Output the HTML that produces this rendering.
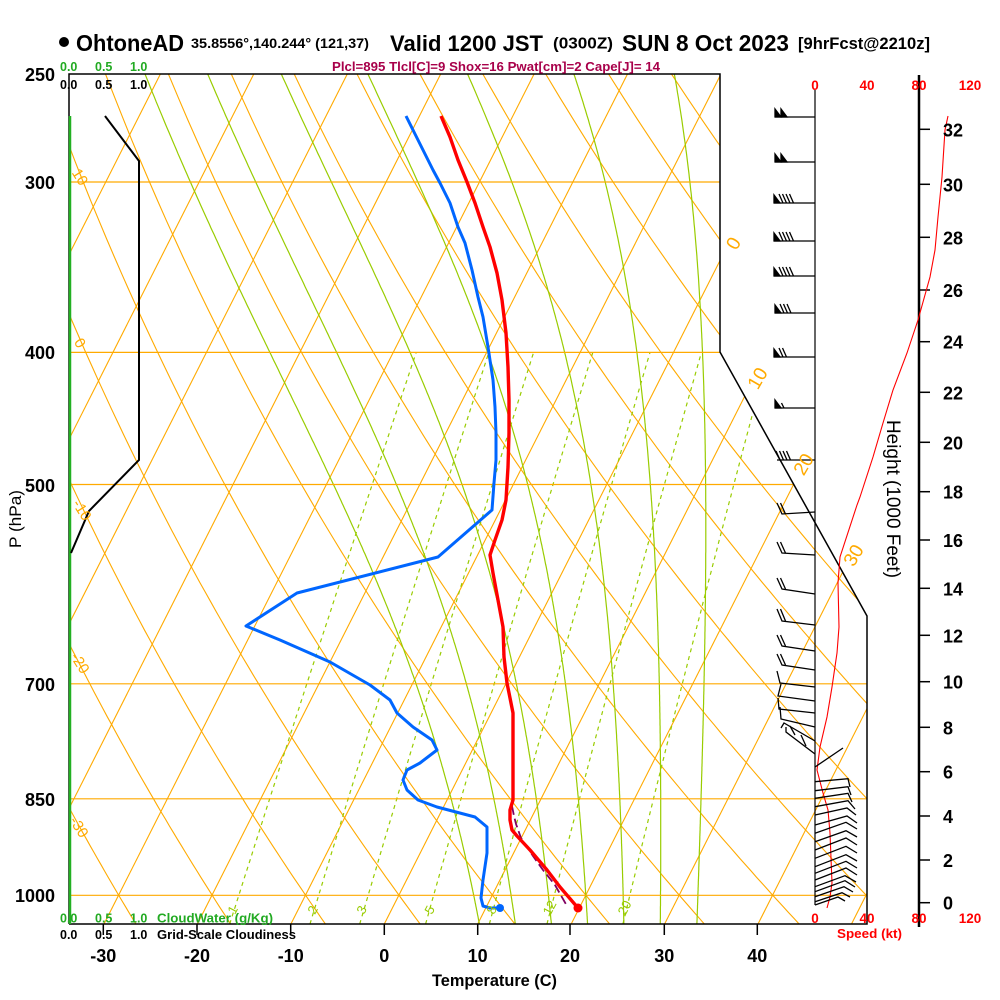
<!DOCTYPE html>
<html><head><meta charset="utf-8"><style>
html,body{margin:0;padding:0;background:#fff;}
svg{display:block;font-family:"Liberation Sans",Arial,sans-serif;}
</style></head><body>
<svg id="s" width="1000" height="1000" viewBox="0 0 1000 1000" xmlns="http://www.w3.org/2000/svg">
<defs><clipPath id="c"><polygon points="69,74 720,74 720,352 867,616 867,924 69,924"/></clipPath></defs>
<rect width="1000" height="1000" fill="#fff"/>
<g id="bg" clip-path="url(#c)"></g>
<g clip-path="url(#c)" stroke="#FFAA00" stroke-width="1.2">
<line x1="69" y1="182" x2="867" y2="182"/><line x1="69" y1="352.4" x2="867" y2="352.4"/><line x1="69" y1="484.5" x2="867" y2="484.5"/><line x1="69" y1="683.8" x2="867" y2="683.8"/><line x1="69" y1="798.8" x2="867" y2="798.8"/><line x1="69" y1="895.3" x2="867" y2="895.3"/>
</g>
<!-- box -->
<g fill="none" stroke="#000" stroke-width="1.5">
<polyline points="69,924 69,74 720,74 720,352 867,616 867,924 69,924"/>
<line x1="815" y1="90" x2="815" y2="905" stroke-width="1.2"/>
<line x1="919" y1="75" x2="919" y2="927" stroke-width="2.5"/>
</g>
<line x1="70" y1="116" x2="70" y2="924" stroke="#22B022" stroke-width="2.5"/>
<!-- bottom ticks -->
<g stroke="#000" stroke-width="1.5">
<line x1="103.3" y1="924" x2="103.3" y2="935"/><line x1="197" y1="924" x2="197" y2="935"/><line x1="290.7" y1="924" x2="290.7" y2="935"/><line x1="384.3" y1="924" x2="384.3" y2="935"/><line x1="477.7" y1="924" x2="477.7" y2="935"/><line x1="570" y1="924" x2="570" y2="935"/><line x1="664.3" y1="924" x2="664.3" y2="935"/><line x1="757.3" y1="924" x2="757.3" y2="935"/>
</g>
<!-- height ticks -->
<g stroke="#000" stroke-width="1.5">
<line x1="919" y1="902.7" x2="930" y2="902.7"/><line x1="919" y1="860" x2="930" y2="860"/><line x1="919" y1="816" x2="930" y2="816"/><line x1="919" y1="771.7" x2="930" y2="771.7"/><line x1="919" y1="727.3" x2="930" y2="727.3"/><line x1="919" y1="681.7" x2="930" y2="681.7"/><line x1="919" y1="635.3" x2="930" y2="635.3"/><line x1="919" y1="588.3" x2="930" y2="588.3"/><line x1="919" y1="540" x2="930" y2="540"/><line x1="919" y1="491.7" x2="930" y2="491.7"/><line x1="919" y1="442.3" x2="930" y2="442.3"/><line x1="919" y1="392.3" x2="930" y2="392.3"/><line x1="919" y1="341.7" x2="930" y2="341.7"/><line x1="919" y1="290" x2="930" y2="290"/><line x1="919" y1="237.3" x2="930" y2="237.3"/><line x1="919" y1="184.3" x2="930" y2="184.3"/><line x1="919" y1="129.3" x2="930" y2="129.3"/>
</g>
<!-- cloudiness line -->
<polyline points="105,116 139,161 139,460 89,511 71,553" fill="none" stroke="#000" stroke-width="2"/>
<!-- speed profile -->
<polyline points="948,116 945,130 942,177 938,217 935,250 930,277 918,320 907,353 893,390 883,423 873,457 860,497 857,505 840,557 838,583 839,627 837,653 832,687 827,717 820,747 817,770 823,793 828,810 830,833 832,883 830,897 827,908" fill="none" stroke="#FF0000" stroke-width="1.1"/>
<!-- wind barbs -->
<g stroke="#000" stroke-width="1.3" fill="#000">
<line x1="815" y1="117" x2="775" y2="117"/><polygon points="775,117 775,109 781,117"/><polygon points="781,117 781,109 787,117"/>
<line x1="815" y1="162" x2="775" y2="162"/><polygon points="775,162 775,154 781,162"/><polygon points="781,162 781,154 787,162"/>
<line x1="815" y1="203" x2="774" y2="203"/><polygon points="774,203 774,195 780,203"/><line x1="783" y1="203" x2="779" y2="194"/><line x1="786.5" y1="203" x2="782.5" y2="194"/><line x1="790" y1="203" x2="786" y2="194"/><line x1="793.5" y1="203" x2="789.5" y2="194"/>
<line x1="815" y1="241" x2="774" y2="241"/><polygon points="774,241 774,233 780,241"/><line x1="783" y1="241" x2="779" y2="232"/><line x1="786.5" y1="241" x2="782.5" y2="232"/><line x1="790" y1="241" x2="786" y2="232"/><line x1="793.5" y1="241" x2="789.5" y2="232"/>
<line x1="815" y1="276" x2="774" y2="276"/><polygon points="774,276 774,268 780,276"/><line x1="783" y1="276" x2="779" y2="267"/><line x1="786.5" y1="276" x2="782.5" y2="267"/><line x1="790" y1="276" x2="786" y2="267"/><line x1="793.5" y1="276" x2="789.5" y2="267"/>
<line x1="815" y1="313" x2="775" y2="313"/><polygon points="775,313 775,305 781,313"/><line x1="784" y1="313" x2="780" y2="304"/><line x1="787.5" y1="313" x2="783.5" y2="304"/><line x1="791" y1="313" x2="787" y2="304"/>
<line x1="815" y1="357" x2="774" y2="357"/><polygon points="774,357 774,349 780,357"/><line x1="783" y1="357" x2="779" y2="348"/><line x1="786.5" y1="357" x2="782.5" y2="348"/>
<line x1="815" y1="408" x2="775" y2="408"/><polygon points="775,408 775,400 781,408"/><line x1="784" y1="408" x2="781.5" y2="403"/>
<line x1="815" y1="460" x2="777" y2="460"/><line x1="780" y1="460" x2="776" y2="451"/><line x1="783.5" y1="460" x2="779.5" y2="451"/><line x1="787" y1="460" x2="783" y2="451"/><line x1="790.5" y1="460" x2="786.5" y2="451"/>
<g fill="none">
<polyline points="815,512 782,514 777,503"/><line x1="785.5" y1="514" x2="780.5" y2="503"/>
<polyline points="815,555 782,553 777,542"/><line x1="785.5" y1="553" x2="780.5" y2="542"/>
<polyline points="815,594 782,589 777,578"/><line x1="785.5" y1="589" x2="780.5" y2="578"/>
<polyline points="815,625 782,621 777,609"/><line x1="785.5" y1="621" x2="780.5" y2="609"/>
<polyline points="815,651 782,646 777,635"/><line x1="785.5" y1="646" x2="780.5" y2="635"/>
<polyline points="815,670 782,665 777,654"/><line x1="785.5" y1="665" x2="780.5" y2="654"/>
<polyline points="815,687 780,683 777,671"/>
<polyline points="815,701 778,696 781,684"/>
<polyline points="815,713 779,709 778,698"/>
<polyline points="815,727 781,719 780,707"/>
<polyline points="815,741 784,723 781,728"/><line x1="790" y1="726" x2="795" y2="735"/>
<polyline points="815,754 786,732 786,727"/><line x1="801" y1="735" x2="806" y2="746"/>
<line x1="815" y1="767" x2="843" y2="748"/>
<polyline points="815,781.7 848,778.7 850,787"/>
<polyline points="815,790.7 848,786.7 851,795"/>
<polyline points="815,798.3 848,793.3 852,802"/>
<polyline points="815,806.7 848,800.7 855,809"/>
<polyline points="815,815 847,808 856,815"/>
<polyline points="815,825 847,816 857,823"/>
<polyline points="815,833.3 846,822.3 857,829"/>
<polyline points="815,841.7 846,830.7 857,837"/>
<polyline points="815,850 846,838 857,845"/>
<polyline points="815,858.3 846,846.3 857,853"/>
<polyline points="815,866.7 846,854.7 857,861"/>
<polyline points="815,873.3 846,861.3 857,868"/>
<polyline points="815,880 846,868 857,875"/>
<polyline points="815,886.7 845,875.7 856,882"/>
<polyline points="815,891.7 845,880.7 855,887"/>
<polyline points="815,896.7 844,886.7 853,892"/>
<polyline points="815,901.7 842,892.7 850,897"/>
<polyline points="815,905 838,897 845,901"/>
</g>
</g>
<!-- purple parcel -->
<polyline points="512,806 514,816 516,824 521,838 533,856 543,870 555,885 567,906" fill="none" stroke="#800060" stroke-width="1.8" stroke-dasharray="9,4"/>
<!-- temperature -->
<polyline points="441,116 450,137 458,160 467,182 475,203 483,227 490,247 497,273 502,300 506,333 508,367 509,400 509,433 508,467 506,500 502,520 495,540 490,555 493,573 498,600 503,627 504,657 507,683 513,713 513,757 513,800 510,810 510,820 512,830 517,836 530,850 547,870 560,887 578,908" fill="none" stroke="#FF0000" stroke-width="3.4" stroke-linejoin="round"/>
<circle cx="578" cy="908" r="4.5" fill="#FF0000"/>
<!-- dewpoint -->
<polyline points="406,116 413,130 423,150 433,170 440,183 450,203 458,227 465,243 472,270 478,297 483,317 488,347 493,380 495,407 496,433 496,460 494,483 492,510 438,557 297,593 246,626 280,640 330,662 370,685 390,700 397,713 413,727 432,740 437,750 420,763 407,770 403,780 407,790 418,800 437,807 475,817 487,827 487,853 483,880 481,898 483,906 490,908 500,908" fill="none" stroke="#0066FF" stroke-width="3" stroke-linejoin="round"/>
<circle cx="500" cy="908" r="4" fill="#0066FF"/>

<!-- title -->
<circle cx="64" cy="42" r="5" fill="#000"/>
<text x="76" y="51" font-size="23" font-weight="bold" textLength="108" lengthAdjust="spacingAndGlyphs">OhtoneAD</text>
<text x="191" y="48" font-size="14" font-weight="bold" textLength="178" lengthAdjust="spacingAndGlyphs">35.8556°,140.244° (121,37)</text>
<text x="390" y="51" font-size="22.5" font-weight="bold" textLength="153" lengthAdjust="spacingAndGlyphs">Valid 1200 JST</text>
<text x="553" y="48.5" font-size="15.5" font-weight="bold" textLength="60" lengthAdjust="spacingAndGlyphs">(0300Z)</text>
<text x="622" y="51" font-size="23" font-weight="bold" textLength="167" lengthAdjust="spacingAndGlyphs">SUN 8 Oct 2023</text>
<text x="798" y="49" font-size="16.5" font-weight="bold" textLength="132" lengthAdjust="spacingAndGlyphs">[9hrFcst@2210z]</text>
<text x="332" y="71" font-size="13" font-weight="bold" fill="#A8004A" textLength="328" lengthAdjust="spacingAndGlyphs">Plcl=895 Tlcl[C]=9 Shox=16 Pwat[cm]=2 Cape[J]= 14</text>

<!-- cloud scales -->
<g font-size="12.5" font-weight="bold">
<g fill="#22AA22"><text x="60" y="71">0.0</text><text x="95" y="71">0.5</text><text x="130" y="71">1.0</text>
<text x="60" y="922.5">0.0</text><text x="95" y="922.5">0.5</text><text x="130" y="922.5">1.0</text>
<text x="157" y="922.5" textLength="116" lengthAdjust="spacingAndGlyphs">CloudWater (g/Kg)</text></g>
<g fill="#000"><text x="60" y="89">0.0</text><text x="95" y="89">0.5</text><text x="130" y="89">1.0</text>
<text x="60" y="939">0.0</text><text x="95" y="939">0.5</text><text x="130" y="939">1.0</text>
<text x="157" y="939" textLength="139" lengthAdjust="spacingAndGlyphs">Grid-Scale Cloudiness</text></g>
</g>

<!-- pressure labels -->
<g font-size="18" font-weight="bold" text-anchor="end">
<text x="55" y="81">250</text><text x="55" y="189">300</text><text x="55" y="359">400</text><text x="55" y="492">500</text><text x="55" y="691">700</text><text x="55" y="806">850</text><text x="55" y="902">1000</text>
</g>
<text transform="translate(21,548) rotate(-90)" font-size="17" textLength="58" lengthAdjust="spacingAndGlyphs">P (hPa)</text>

<!-- temperature labels -->
<g font-size="18" font-weight="bold" text-anchor="middle">
<text x="103.3" y="962">-30</text><text x="197" y="962">-20</text><text x="290.7" y="962">-10</text><text x="384.3" y="962">0</text><text x="477.7" y="962">10</text><text x="570" y="962">20</text><text x="664.3" y="962">30</text><text x="757.3" y="962">40</text>
</g>
<text x="432" y="986" font-size="17" font-weight="bold" textLength="125" lengthAdjust="spacingAndGlyphs">Temperature (C)</text>

<!-- speed labels -->
<g font-size="13.5" font-weight="bold" fill="#FF0000" text-anchor="middle">
<text x="815" y="90">0</text><text x="867" y="90">40</text><text x="919" y="90">80</text><text x="970" y="90">120</text>
<text x="815" y="923">0</text><text x="867" y="923">40</text><text x="919" y="923">80</text><text x="970" y="923">120</text>
</g>
<text x="837" y="938" font-size="13" font-weight="bold" fill="#FF0000" textLength="65" lengthAdjust="spacingAndGlyphs">Speed (kt)</text>

<!-- height labels -->
<g font-size="18" font-weight="bold">
<text x="943" y="909.7">0</text><text x="943" y="867">2</text><text x="943" y="823">4</text><text x="943" y="778.7">6</text><text x="943" y="734.3">8</text><text x="943" y="688.7">10</text><text x="943" y="642.3">12</text><text x="943" y="595.3">14</text><text x="943" y="547">16</text><text x="943" y="498.7">18</text><text x="943" y="449.3">20</text><text x="943" y="399.3">22</text><text x="943" y="348.7">24</text><text x="943" y="297">26</text><text x="943" y="244.3">28</text><text x="943" y="191.3">30</text><text x="943" y="136.3">32</text>
</g>
<text transform="translate(887,420) rotate(90)" font-size="19" textLength="158" lengthAdjust="spacingAndGlyphs">Height (1000 Feet)</text>

<!-- orange labels -->
<g fill="#FFAA00" font-size="19" text-anchor="middle">
<text transform="translate(733,243) rotate(-60)" dy="7">0</text>
<text transform="translate(757,378) rotate(-60)" dy="7">10</text>
<text transform="translate(803,464) rotate(-60)" dy="7">20</text>
<text transform="translate(853,555) rotate(-60)" dy="7">30</text>
</g>
<g fill="#FFAA00" font-size="15" text-anchor="middle">
<text transform="translate(80,177) rotate(58)" dy="5">10</text>
<text transform="translate(80,343) rotate(58)" dy="5">0</text>
<text transform="translate(82,510) rotate(58)" dy="5">-10</text>
<text transform="translate(80,663) rotate(58)" dy="5">-20</text>
<text transform="translate(79,827) rotate(58)" dy="5">-30</text>
</g>
<!-- mixing ratio labels -->
<g fill="#99CC00" font-size="13" text-anchor="middle">
<text transform="translate(233,910) rotate(-62)" dy="4">1</text>
<text transform="translate(313,910) rotate(-62)" dy="4">2</text>
<text transform="translate(362,910) rotate(-62)" dy="4">3</text>
<text transform="translate(430,910) rotate(-62)" dy="4">5</text>
<text transform="translate(492,910) rotate(-62)" dy="4">8</text>
<text transform="translate(550,908) rotate(-62)" dy="4">12</text>
<text transform="translate(625,908) rotate(-62)" dy="4">20</text>
</g>
</svg>
<script>
(function(){
var NS='http://www.w3.org/2000/svg';
var g=document.getElementById('bg');
function Y(p){return 74+592.3*Math.log(p/250);}
function X(T,y){return 384.3+9.343*T+0.506*(924-y);}
function add(pts,stroke,w,dash){
  var d='M'+pts.map(function(a){return a[0].toFixed(1)+','+a[1].toFixed(1);}).join('L');
  var p=document.createElementNS(NS,'path');
  p.setAttribute('d',d);p.setAttribute('fill','none');p.setAttribute('stroke',stroke);
  p.setAttribute('stroke-width',w);if(dash)p.setAttribute('stroke-dasharray',dash);
  g.appendChild(p);
}
var ps=[];for(var p=1050;p>=249.9;p-=10)ps.push(p);
for(var T=-130;T<=60;T+=10){add([[X(T,924),924],[X(T,74),74]],'#FFAA00',1.1);}
for(var th=-50;th<=140;th+=10){
  var pts=ps.map(function(p){var t=(th+273.15)*Math.pow(p/1000,0.2857)-273.15;var y=Y(p);return [X(t,y),y];});
  add(pts,'#FFAA00',1.1);
}
function es(t){return 6.112*Math.exp(17.67*t/(t+243.5));}
function dTdp(t,p){var Tk=t+273.15,e=es(t),r=0.622*e/(p-e),Rd=287.04,cp=1005.7,L=2.501e6;
  return (Rd*Tk+L*r)/(p*(cp+L*L*r*0.622/(Rd*Tk*Tk)));}
function integ(t,p,pend,h){var out=[];while((h<0&&p>pend)||(h>0&&p<pend)){var k1=dTdp(t,p);var k2=dTdp(t+k1*h/2,p+h/2);t+=k2*h;p+=h;out.push([t,p]);}return out;}
for(var tw=8;tw<=32;tw+=4){
  var up=integ(tw,1000,250,-2);var dn=integ(tw,1000,1050,2).reverse();
  var all=dn.concat([[tw,1000]]).concat(up);
  add(all.map(function(a){var y=Y(a[1]);return [X(a[0],y),y];}),'#99CC00',1.2);
}
[1,2,3,5,8,12,20].forEach(function(w){
  var pts=[];for(var p=1050;p>=400;p-=10){var e=w/1000*p/(0.622+w/1000);var l=Math.log(e/6.112);var t=243.5*l/(17.67-l);var y=Y(p);pts.push([X(t,y),y]);}
  add(pts,'#99CC00',1.2,'4,4');
});
})();
</script>
</body></html>
